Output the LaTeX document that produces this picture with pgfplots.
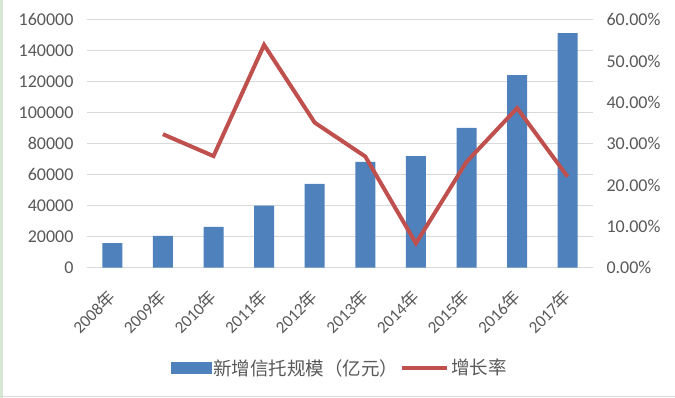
\documentclass[border=0pt]{standalone}
\usepackage{pgfplots}
\pgfplotsset{compat=1.18}
\usepackage{fontspec}
\setmainfont{Carlito}
\newfontfamily\cjk{Noto Sans CJK SC}
\definecolor{barblue}{HTML}{4F81BD}
\definecolor{linered}{HTML}{C0504D}
\definecolor{gridgray}{HTML}{D9D9D9}
\definecolor{ticktext}{HTML}{595959}
\definecolor{leftgreen}{HTML}{D5E8D4}
\newcommand{\lab}{\fontsize{17}{20}\selectfont}
\newcommand{\ylab}{\fontsize{18}{21}\selectfont}
\newcommand{\leglab}{\fontsize{18.5}{22}\selectfont}
\begin{document}
\begin{tikzpicture}[x=1pt,y=1pt]
\useasboundingbox (0,0) rectangle (675,398);
\fill[white] (0,0) rectangle (675,398);
\fill[leftgreen] (0,0) rectangle (3,398);
\draw[gridgray,line width=1pt] (0,1.5) -- (675,1.5);
\begin{axis}[at={(87pt,130.3pt)}, anchor=south west, scale only axis,
  width=506pt, height=248pt,
  xmin=-0.5, xmax=9.5, ymin=0, ymax=160000,
  ytick={0,20000,...,160000},
  ymajorgrids, grid style={gridgray, line width=1.3pt},
  axis line style={draw=none}, major tick length=0pt,
  xtick={0,...,9},
  xticklabels={2008{\cjk 年},2009{\cjk 年},2010{\cjk 年},2011{\cjk 年},2012{\cjk 年},2013{\cjk 年},2014{\cjk 年},2015{\cjk 年},2016{\cjk 年},2017{\cjk 年}},
  xticklabel style={xshift=-6pt, yshift=-18.5pt, rotate=45, anchor=north east, font=\lab, text=ticktext, inner sep=1pt},
  yticklabel={\pgfmathprintnumber[fixed,precision=0,set thousands separator={}]{\tick}},
  yticklabel style={font=\ylab, text=ticktext, xshift=-10pt},
  scaled y ticks=false,
  /pgf/number format/assume math mode=true,
]
\addplot[ybar, bar width=20pt, fill=barblue, draw=none] coordinates {
(0,15800) (1,20450) (2,26260) (3,40000) (4,54000) (5,68200) (6,72060) (7,90130) (8,124300) (9,151400)};
\end{axis}
\begin{axis}[at={(87pt,130.3pt)}, anchor=south west, scale only axis,
  width=506pt, height=248pt,
  xmin=-0.5, xmax=9.5, ymin=0, ymax=60,
  ytick={0,10,...,60},
  axis x line=none, axis y line*=right,
  axis line style={draw=none}, major tick length=0pt,
  yticklabel={\pgfmathprintnumber[fixed,fixed zerofill,precision=2]{\tick}\%},
  yticklabel style={font=\ylab, text=ticktext, xshift=10pt},
  /pgf/number format/assume math mode=true,
  legend columns=2,
  legend style={at={(0.5,-0.404)}, anchor=center, draw=none, fill=none,
    font=\leglab\cjk, text=ticktext,
    /tikz/every even column/.append style={column sep=0pt}},
]
\addlegendimage{legend image code/.code={\fill[barblue] (0pt,-5.3pt) rectangle (40pt,5.3pt);}}
\addlegendentry{新增信托规模（亿元）}
\addplot[linered, line width=4pt, line join=miter,
  legend image code/.code={\draw[linered, line width=4pt] (0pt,0pt) -- (45pt,0pt);}] coordinates {
(1,32.3) (2,27.0) (3,53.9) (4,35.1) (5,26.9) (6,5.9) (7,25.6) (8,38.6) (9,22.0)};
\addlegendentry{增长率}
\end{axis}
\end{tikzpicture}
\end{document}
